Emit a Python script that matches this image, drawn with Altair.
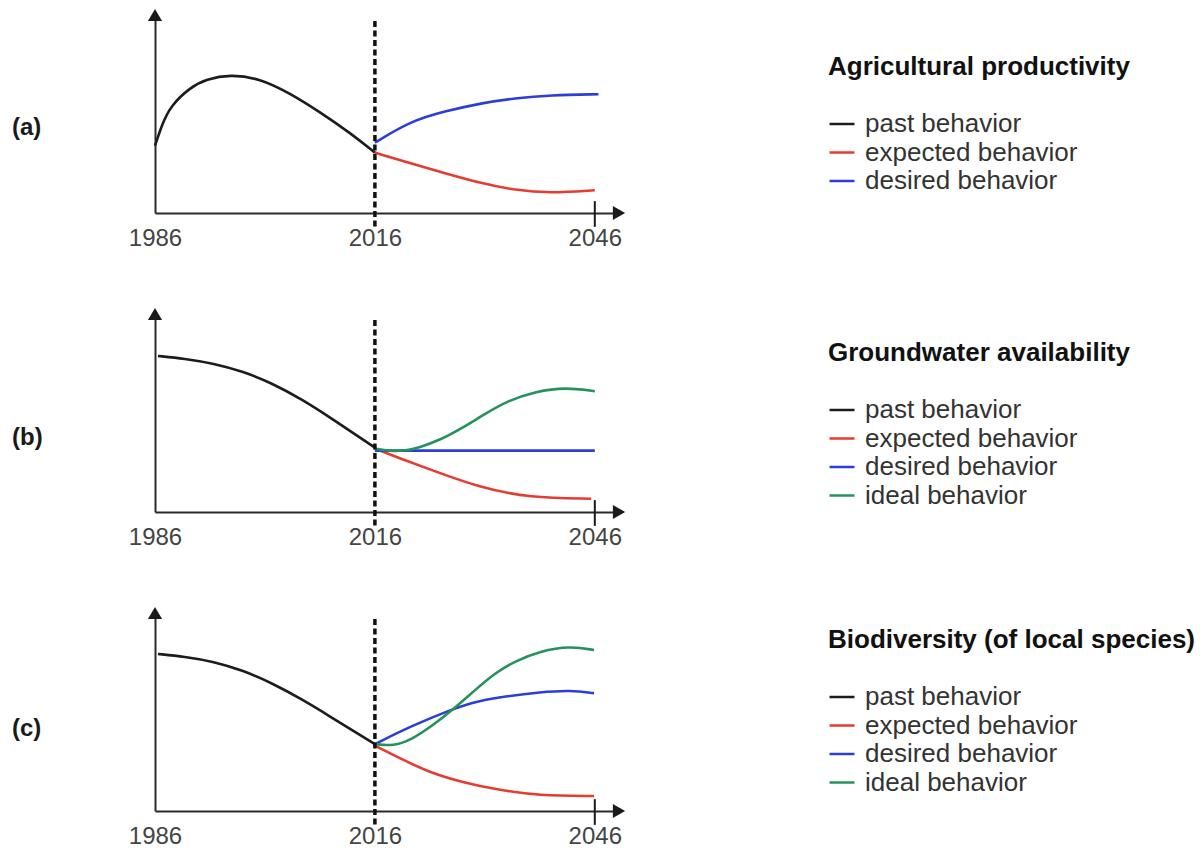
import altair as alt
import pandas as pd

FONT = "Liberation Sans"

# Series colours and legend order
SERIES = ["past behavior", "expected behavior", "desired behavior", "ideal behavior"]
COLORS = {
    "past behavior": "#1c1c1c",
    "expected behavior": "#e53b30",
    "desired behavior": "#2b3fd8",
    "ideal behavior": "#24925a",
}

# (a) Agricultural productivity
a_past_year = [1986, 1987, 1988.1, 1990.8, 1993, 1996.2, 2000.3, 2004.4, 2008.5, 2012.6, 2016]
a_past_val = [34, 45, 54, 63.5, 67.5, 70, 68, 60.5, 51, 40.5, 30.5]
a_exp_year = [2016, 2020.9, 2025.7, 2030.5, 2035.1, 2039.9, 2046]
a_exp_val = [30.5, 25, 20, 15, 11.5, 10, 11.5]
a_des_year = [2016, 2020.9, 2025.7, 2030.5, 2035.1, 2039.9, 2046.5]
a_des_val = [35.5, 46.5, 51.5, 55.5, 58, 59.5, 60]

# (b) Groundwater availability
b_past_year = [1986.4, 1990, 1994, 1998, 2002, 2006, 2010, 2013, 2016]
b_past_val = [78.8, 77.5, 75, 71, 65, 57, 47.5, 40, 32.5]
b_exp_year = [2016, 2019.5, 2023.5, 2030.3, 2037.1, 2045.5]
b_exp_val = [32, 27, 21.5, 12.3, 7.2, 6.7]
b_des_year = [2016, 2046]
b_des_val = [31, 31]
b_ide_year = [2016, 2018, 2020, 2022, 2025, 2028, 2031, 2034, 2038, 2042, 2046]
b_ide_val = [32, 30.8, 30.8, 32.5, 36.5, 42.6, 49.5, 56, 61, 63, 61]

# (c) Biodiversity (of local species)
c_past_year = [1986.4, 1990, 1994, 1998, 2002, 2006, 2010, 2013, 2016]
c_past_val = [79.3, 78, 75.5, 71, 64.5, 56.5, 47.5, 40.5, 33.8]
c_exp_year = [2016, 2020, 2023.8, 2028, 2032.2, 2038.5, 2045.9]
c_exp_val = [33, 25.5, 19, 14.5, 11.1, 7.6, 7.6]
c_des_year = [2016, 2021, 2026.9, 2030, 2034, 2038.5, 2042.7, 2045.9]
c_des_val = [33.8, 43, 52, 55.5, 58, 60, 61, 59.5]
c_ide_year = [2016, 2018.5, 2021, 2024, 2026.9, 2029.5, 2032.2, 2035, 2038.5, 2042.7, 2045.9]
c_ide_val = [33.8, 32.8, 36, 43.5, 52, 60.5, 69.2, 75.5, 80.8, 83.3, 81.3]

X_MIN, X_MAX = 1986, 2049.3
TICK_YEARS = [1986, 2016, 2046]
W, H = 464, 198


def frame(pairs):
    rows = []
    for name, years, vals in pairs:
        for yr, v in zip(years, vals):
            rows.append({"year": yr, "value": v, "series": name})
    return pd.DataFrame(rows)


xscale = alt.Scale(domain=[X_MIN, X_MAX], nice=False, zero=False)
yscale = alt.Scale(domain=[0, 100], nice=False, zero=True)

# Axis lines double as the plot's arrows; only the year labels are shown
xaxis = alt.Axis(
    values=TICK_YEARS, format="d", ticks=False, grid=False, domain=True,
    domainColor="#2a2a2a", domainWidth=2, labelFontSize=24, labelFont=FONT,
    labelColor="#444", labelPadding=13, labelFlush=False, labelOverlap=False, title=None)
yaxis = alt.Axis(
    labels=False, ticks=False, grid=False, domain=True, domainColor="#2a2a2a",
    domainWidth=2, title=None)


def X(field):
    return alt.X(field, scale=xscale, axis=xaxis)


def Y(field):
    return alt.Y(field, scale=yscale, axis=yaxis)


def panel(df, letter, title, legend_y, letter_y):
    present = [s for s in SERIES if s in set(df["series"])]
    lines = alt.Chart(df).mark_line(interpolate="basis", strokeWidth=2.6).encode(
        x=X("year:Q"),
        y=Y("value:Q"),
        color=alt.Color("series:N",
                        scale=alt.Scale(domain=present, range=[COLORS[s] for s in present]),
                        legend=alt.Legend(
                            orient="none", legendX=673, legendY=legend_y, title=title,
                            titleFont=FONT, titleFontSize=26, titleFontWeight="bold",
                            titleColor="#111", titlePadding=30, titleLimit=0,
                            labelFont=FONT, labelFontSize=26, labelColor="#333",
                            labelLimit=0, labelOffset=9, symbolType="stroke",
                            symbolSize=625, symbolStrokeWidth=2.5, rowPadding=1.5,
                            padding=0)),
    )

    up = alt.Chart(pd.DataFrame({"year": [X_MIN], "value": [100]})).mark_point(
        shape="triangle-up", filled=True, size=200, color="#1a1a1a", opacity=1
    ).encode(x=X("year:Q"), y=Y("value:Q"))

    right = alt.Chart(pd.DataFrame({"year": [X_MAX], "value": [0]})).mark_point(
        shape="triangle-right", filled=True, size=200, color="#1a1a1a", opacity=1
    ).encode(x=X("year:Q"), y=Y("value:Q"))

    now = alt.Chart(pd.DataFrame({"year": [2016], "top": [97], "bottom": [-8]})).mark_rule(
        strokeDash=[6, 3.5], strokeWidth=3.5, color="#111"
    ).encode(x=X("year:Q"), y=Y("top:Q"), y2="bottom:Q")

    end_tick = alt.Chart(pd.DataFrame({"year": [2046], "top": [6], "bottom": [-7]})).mark_rule(
        strokeWidth=2, color="#1a1a1a"
    ).encode(x=X("year:Q"), y=Y("top:Q"), y2="bottom:Q")

    tag = alt.Chart(pd.DataFrame({"t": [letter]})).mark_text(
        align="left", baseline="middle", fontSize=24, fontWeight="bold", font=FONT, color="#1a1a1a"
    ).encode(x=alt.value(-143), y=alt.value(letter_y), text="t:N")

    return alt.layer(lines, now, end_tick, up, right, tag).properties(width=W, height=H)


pa = panel(frame([("past behavior", a_past_year, a_past_val),
                  ("expected behavior", a_exp_year, a_exp_val),
                  ("desired behavior", a_des_year, a_des_val)]),
           "(a)", "Agricultural productivity", 39, 113)
pb = panel(frame([("past behavior", b_past_year, b_past_val),
                  ("expected behavior", b_exp_year, b_exp_val),
                  ("desired behavior", b_des_year, b_des_val),
                  ("ideal behavior", b_ide_year, b_ide_val)]),
           "(b)", "Groundwater availability", 26, 124)
pc = panel(frame([("past behavior", c_past_year, c_past_val),
                  ("expected behavior", c_exp_year, c_exp_val),
                  ("desired behavior", c_des_year, c_des_val),
                  ("ideal behavior", c_ide_year, c_ide_val)]),
           "(c)", "Biodiversity (of local species)", 14, 116)

chart = alt.vconcat(pa, pb, pc, spacing=57).resolve_scale(color="independent").properties(
    padding={"left": 12, "top": 8, "right": 0, "bottom": 0}
).configure_view(stroke=None)

chart.save("out.html", embed_options={"renderer": "svg", "actions": False})
